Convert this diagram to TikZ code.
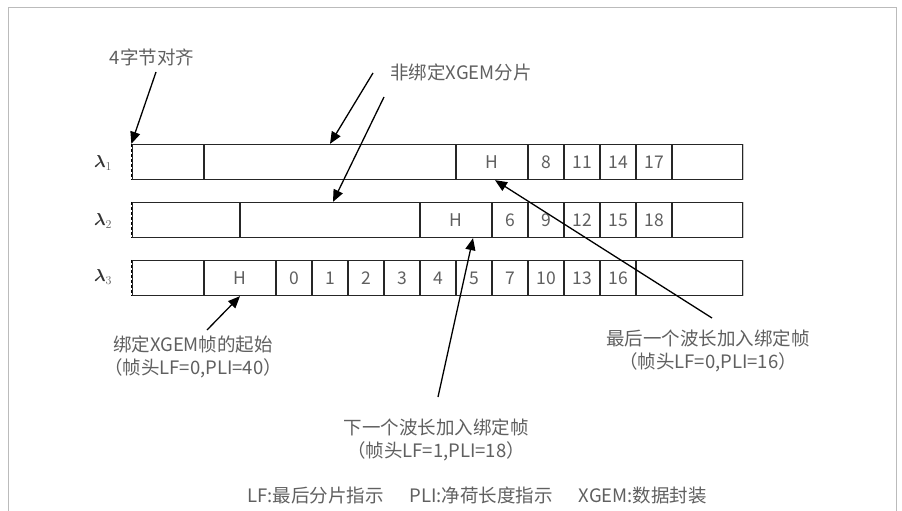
\documentclass[tikz,border=0pt]{standalone}
\usepackage{fontspec}
\usepackage{amsmath}
\setmainfont{Noto Sans CJK SC}
\usetikzlibrary{arrows.meta,calc}
\definecolor{txt}{HTML}{606060}
\definecolor{framec}{HTML}{BBBBBB}
\definecolor{edgec}{HTML}{C8C8C8}
\begin{document}
\begin{tikzpicture}[x=1pt,y=-1pt,
  cell/.style={draw=black!85,line width=1.3pt,minimum height=35pt,inner sep=0pt,text=txt,font=\fontsize{17.5}{17.5}\selectfont},
  lbl/.style={text=txt,font=\fontsize{18.5}{23}\selectfont,align=center,inner sep=0pt},
  arr/.style={-{Triangle[length=12pt,width=10pt]},line width=1.3pt,black},
  lam/.style={text=black!80,font=\fontsize{17}{17}\selectfont,inner sep=0pt},
  leftedge/.style={black,line width=0.9pt,dash pattern=on 3pt off 2pt},
  rightedge/.style={edgec,line width=1.6pt}]
\useasboundingbox (0,0) rectangle (902,511);
\fill[white] (0,0) rectangle (902,511);
\draw[framec,line width=1pt] (8.5,511) -- (8.5,7.5) -- (896.5,7.5) -- (896.5,511);

% row 1
\node[cell,minimum width=72] (r1a) at (168,162) {};
\node[cell,minimum width=252] (r1b) at (330,162) {};
\node[cell,minimum width=72] (h1) at (492,162) {H};
\foreach \t [count=\i from 0] in {8,11,14,17}
  \node[cell,minimum width=36] (r1n\t) at (546+36*\i,162) {\t};
\node[cell,minimum width=71] (r1e) at (707.5,162) {};
% row 2
\node[cell,minimum width=108] (r2a) at (186,220) {};
\node[cell,minimum width=180] (r2b) at (330,220) {};
\node[cell,minimum width=72] (h2) at (456,220) {H};
\foreach \t [count=\i from 0] in {6,9,12,15,18}
  \node[cell,minimum width=36] (r2n\t) at (510+36*\i,220) {\t};
\node[cell,minimum width=71] (r2e) at (707.5,220) {};
% row 3
\node[cell,minimum width=72] (r3a) at (168,278) {};
\node[cell,minimum width=72] (h3) at (240,278) {\raisebox{-2pt}{H}};
\foreach \t [count=\i from 0] in {0,1,2,3,4,5,7,10,13,16}
  \node[cell,minimum width=36] (r3n\t) at (294+36*\i,278) {\t};
\node[cell,minimum width=107] (r3e) at (689.5,278) {};

% edges
\foreach \r in {r1a,r2a,r3a}{
  \draw[white,line width=2pt] ([yshift=0.7pt]\r.north west) -- ([yshift=-0.7pt]\r.south west);
  \draw[leftedge] (\r.north west) -- (\r.south west);}
\foreach \r in {r1e,r2e,r3e}{
  \draw[white,line width=2.2pt] ([yshift=0.7pt]\r.north east) -- ([yshift=-0.7pt]\r.south east);
  \draw[rightedge] (\r.north east) -- (\r.south east);}

% lambda labels
\node[lam] (l1) at (103,163) {$\boldsymbol{\lambda}_{\color{txt}1}$};
\node[lam] (l2) at (103,221) {$\boldsymbol{\lambda}_{\color{txt}2}$};
\node[lam] (l3) at (103,277) {$\boldsymbol{\lambda}_{\color{txt}3}$};

% text labels
\node[lbl] (t4) at (152,57) {4字节对齐};
\node[lbl] (tnb) at (461,72) {非绑定XGEM分片};
\node[lbl] (tstart) at (193,357) {绑定XGEM帧的起始\\（帧头LF=0,PLI=40）};
\node[lbl] (tlast) at (708,351) {最后一个波长加入绑定帧\\（帧头LF=0,PLI=16）};
\node[lbl] (tnext) at (436,440) {下一个波长加入绑定帧\\（帧头LF=1,PLI=18）};
\node[lbl] (legend) at (477,495) {LF:最后分片指示\hspace{26pt}PLI:净荷长度指示\hspace{26pt}XGEM:数据封装};

% arrow start coordinates
\coordinate (s4) at (156,72);
\coordinate (snb1) at (373,73);
\coordinate (snb2) at (384,97);
\coordinate (sstart) at (207,330);
\coordinate (slast) at (712,318);
\coordinate (snext) at (438,397);

\draw[arr] (s4) -- (r1a.north west);
\draw[arr] (snb1) -- (r1b.north);
\draw[arr] (snb2) -- ([xshift=3pt]r2b.north);
\draw[arr] (sstart) -- (h3.south);
\draw[arr] (slast) -- ([xshift=3pt]h1.south);
\draw[arr] (snext) -- ([xshift=17pt]h2.south);
\end{tikzpicture}
\end{document}
